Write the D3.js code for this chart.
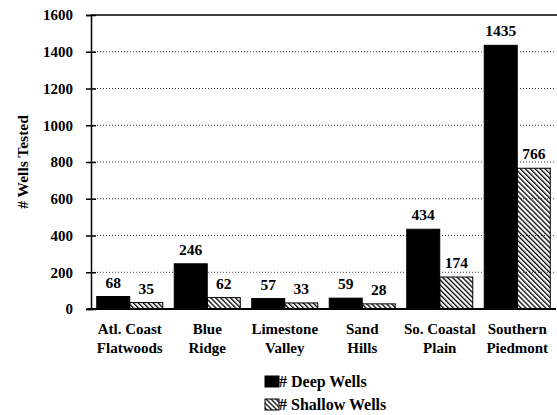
<!doctype html>
<html lang="en">
<head>
  <meta charset="utf-8">
  <title>Wells Tested</title>
  <style>
    body { margin: 0; background: #fff; }
  </style>
</head>
<body>
  <div id="chart"></div>
  <script src="https://d3js.org/d3.v7.min.js"></script>
  <script>
    // Data -----------------------------------------------------------------
    const regions = [
      ["Atl. Coast", "Flatwoods"],
      ["Blue", "Ridge"],
      ["Limestone", "Valley"],
      ["Sand", "Hills"],
      ["So. Coastal", "Plain"],
      ["Southern", "Piedmont"]
    ];
    const deepWells = [68, 246, 57, 59, 434, 1435];
    const shallowWells = [35, 62, 33, 28, 174, 766];
    const seriesNames = ["# Deep Wells", "# Shallow Wells"];
    const yTicks = [0, 200, 400, 600, 800, 1000, 1200, 1400, 1600];

    // Layout ---------------------------------------------------------------
    const width = 557;
    const height = 415;
    const plotLeft = 91, plotRight = 556, plotTop = 15, plotBottom = 309;
    const serif = "\"Liberation Serif\"";

    const svg = d3.select("#chart")
      .append("svg")
      .attr("width", width)
      .attr("height", height);

    const defs = svg.append("defs");
    defs.append("pattern")
      .attr("id", "hatch")
      .attr("patternUnits", "userSpaceOnUse")
      .attr("width", 3.5)
      .attr("height", 3.5)
      .attr("patternTransform", "rotate(-45)")
      .append("rect")
      .attr("width", 1.3)
      .attr("height", 3.5)
      .attr("fill", "#000");

    const x = d3.scaleBand()
      .domain(d3.range(regions.length))
      .range([plotLeft, plotRight])
      .paddingInner(0.148)
      .paddingOuter(0.074);

    const inner = d3.scaleBand()
      .domain([0, 1])
      .range([0, x.bandwidth()]);

    const y = d3.scaleLinear()
      .domain([0, 1600])
      .range([plotBottom, plotTop]);

    // Gridlines ------------------------------------------------------------
    svg.append("g")
      .selectAll("line")
      .data(yTicks.filter(d => d > 0 && d < 1600))
      .join("line")
      .attr("x1", plotLeft)
      .attr("x2", plotRight)
      .attr("y1", d => y(d))
      .attr("y2", d => y(d))
      .attr("stroke", "#000")
      .attr("stroke-width", 0.8)
      .attr("stroke-dasharray", "1,2");

    // top border
    svg.append("line")
      .attr("x1", plotLeft).attr("x2", width)
      .attr("y1", y(1600)).attr("y2", y(1600))
      .attr("stroke", "#000").attr("stroke-width", 1.5);

    // Bars -----------------------------------------------------------------
    const groups = svg.append("g")
      .selectAll("g")
      .data(regions.map((r, i) => [deepWells[i], shallowWells[i]]))
      .join("g")
      .attr("transform", (d, i) => `translate(${x(i)},0)`);

    groups.selectAll("rect")
      .data(d => d)
      .join("rect")
      .attr("x", (d, j) => inner(j))
      .attr("y", d => y(d))
      .attr("width", inner.bandwidth())
      .attr("height", d => y(0) - y(d))
      .attr("fill", (d, j) => j === 0 ? "#000" : "url(#hatch)")
      .attr("stroke", "#000")
      .attr("stroke-width", 1);

    groups.selectAll("text")
      .data(d => d)
      .join("text")
      .attr("x", (d, j) => inner(j) + inner.bandwidth() / 2)
      .attr("y", d => y(d) - 9)
      .attr("text-anchor", "middle")
      .style("font-size", "15.5px")
      .text(d => d);

    // Axes -----------------------------------------------------------------
    const yAxis = svg.append("g")
      .attr("transform", `translate(${plotLeft},0)`)
      .call(d3.axisLeft(y).tickValues(yTicks).tickFormat(d3.format("d"))
        .tickSize(5).tickPadding(13));
    yAxis.select(".domain").attr("stroke-width", 1.5);
    yAxis.selectAll(".tick line").attr("stroke-width", 1.5).attr("x2", -5).attr("x1", 5);
    yAxis.selectAll(".tick text").style("font-size", "15px");

    svg.append("line")
      .attr("x1", plotLeft - 4).attr("x2", plotRight)
      .attr("y1", y(0)).attr("y2", y(0))
      .attr("stroke", "#000").attr("stroke-width", 1.8);

    const labels = svg.append("g")
      .selectAll("text")
      .data(regions)
      .join("text")
      .attr("x", (d, i) => x(i) + x.bandwidth() / 2)
      .attr("y", 334)
      .attr("text-anchor", "middle")
      .style("font-size", "15px");
    labels.selectAll("tspan")
      .data(d => d)
      .join("tspan")
      .attr("x", function() { return d3.select(this.parentNode).attr("x"); })
      .attr("dy", (d, k) => k === 0 ? 0 : 19)
      .text(d => d);

    svg.append("text")
      .attr("transform", "translate(28,162) rotate(-90)")
      .attr("text-anchor", "middle")
      .style("font-size", "15.5px")
      .text("# Wells Tested");

    // Legend ---------------------------------------------------------------
    const legend = svg.append("g")
      .selectAll("g")
      .data(seriesNames)
      .join("g")
      .attr("transform", (d, i) => `translate(265,${376 + i * 23})`);
    legend.append("rect")
      .attr("width", 14)
      .attr("height", 11)
      .attr("fill", (d, i) => i === 0 ? "#000" : "url(#hatch)")
      .attr("stroke", "#000")
      .attr("stroke-width", 1);
    legend.append("text")
      .attr("x", 14)
      .attr("y", 11)
      .style("font-size", "16px")
      .text(d => d);

    // Fonts: serif bold everywhere
    svg.selectAll("text")
      .style("font-family", serif)
      .style("font-weight", "bold")
      .attr("fill", "#000");
  </script>
</body>
</html>
